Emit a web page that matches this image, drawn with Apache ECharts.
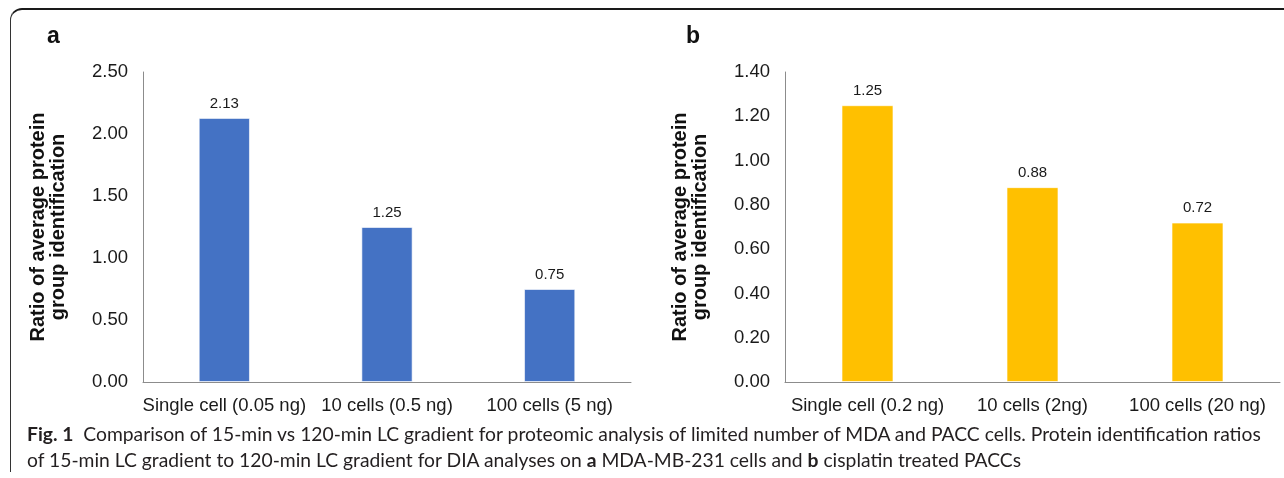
<!DOCTYPE html>
<html>
<head>
<meta charset="utf-8">
<script src="https://cdn.jsdelivr.net/npm/echarts@6/dist/echarts.min.js"></script>
<style>
  html, body { margin: 0; padding: 0; background: #fff; }
  #wrap { position: relative; width: 1284px; height: 478px; overflow: hidden; }
  #frame {
    position: absolute; left: 10px; top: 8px; width: 1300px; height: 464px;
    border-top: 2px solid #1a1a1a; border-left: 1.5px solid #333;
    border-top-left-radius: 12px; box-sizing: border-box;
  }
  #chart { position: absolute; left: 0; top: 0; width: 1284px; height: 478px; }
  #caption {
    position: absolute; left: 27px; top: 421px; width: 1255px; white-space: nowrap;
    font-family: Lato, "Open Sans", sans-serif;
    font-size: 19.3px; line-height: 26px; color: #231f20;
  }
  #caption b { font-weight: bold; }
</style>
</head>
<body>
<div id="wrap">
  <div id="frame"></div>
  <div id="chart"></div>
  <div id="caption"><b>Fig. 1</b>&nbsp; Comparison of 15-min vs 120-min LC gradient for proteomic analysis of limited number of MDA and PACC cells. Protein identification ratios<br>of 15-min LC gradient to 120-min LC gradient for DIA analyses on <b>a</b> MDA-MB-231 cells and <b>b</b> cisplatin treated PACCs</div>
</div>
<script>
const categoriesA = ["Single cell (0.05 ng)", "10 cells (0.5 ng)", "100 cells (5 ng)"];
const valuesA = [2.13, 1.25, 0.75];
const categoriesB = ["Single cell (0.2 ng)", "10 cells (2ng)", "100 cells (20 ng)"];
const valuesB = [1.25, 0.88, 0.72];
const yNameText = "Ratio of average protein\ngroup identification";

const chart = echarts.init(document.getElementById("chart"));
const font = "'Liberation Sans', Arial, sans-serif";

const makeX = (gridIndex, data) => ({
  type: "category",
  gridIndex,
  data,
  axisTick: { show: false },
  axisLine: { lineStyle: { color: "#8c8c8c", width: 1 } },
  axisLabel: { color: "#1a1a1a", fontSize: 18.5, fontFamily: font, margin: 14, interval: 0 },
});

const makeY = (gridIndex, max, interval) => ({
  type: "value",
  gridIndex,
  min: 0,
  max,
  interval,
  name: yNameText,
  nameLocation: "middle",
  nameGap: 75,
  nameTextStyle: { fontSize: 20, fontWeight: "bold", color: "#111", fontFamily: font, lineHeight: 20 },
  axisLine: { show: true, lineStyle: { color: "#8c8c8c", width: 1 } },
  axisTick: { show: false },
  splitLine: { show: false },
  axisLabel: {
    color: "#1a1a1a", fontSize: 18.5, fontFamily: font, margin: 15,
    formatter: (v) => v.toFixed(2),
  },
});

const makeBar = (idx, data, color) => ({
  type: "bar",
  xAxisIndex: idx,
  yAxisIndex: idx,
  data,
  barWidth: "31.5%",
  itemStyle: { color, borderColor: "rgba(255,255,255,0.6)", borderWidth: 1 },
  label: {
    show: true, position: "top", distance: 7,
    color: "#1a1a1a", fontSize: 15, fontFamily: font,
    formatter: (p) => p.value.toFixed(2),
  },
});

chart.setOption({
  animation: false,
  title: [
    { text: "a", left: 42, top: 20, textStyle: { fontSize: 23, fontWeight: "bold", color: "#111", fontFamily: font } },
    { text: "b", left: 681, top: 20, textStyle: { fontSize: 23, fontWeight: "bold", color: "#111", fontFamily: font } },
  ],
  grid: [
    { left: 143, top: 72, width: 488, height: 310 },
    { left: 785, top: 72, width: 495, height: 310 },
  ],
  xAxis: [makeX(0, categoriesA), makeX(1, categoriesB)],
  yAxis: [makeY(0, 2.5, 0.5), makeY(1, 1.4, 0.2)],
  series: [makeBar(0, valuesA, "#4472c4"), makeBar(1, valuesB, "#ffc000")],
});
</script>
</body>
</html>
